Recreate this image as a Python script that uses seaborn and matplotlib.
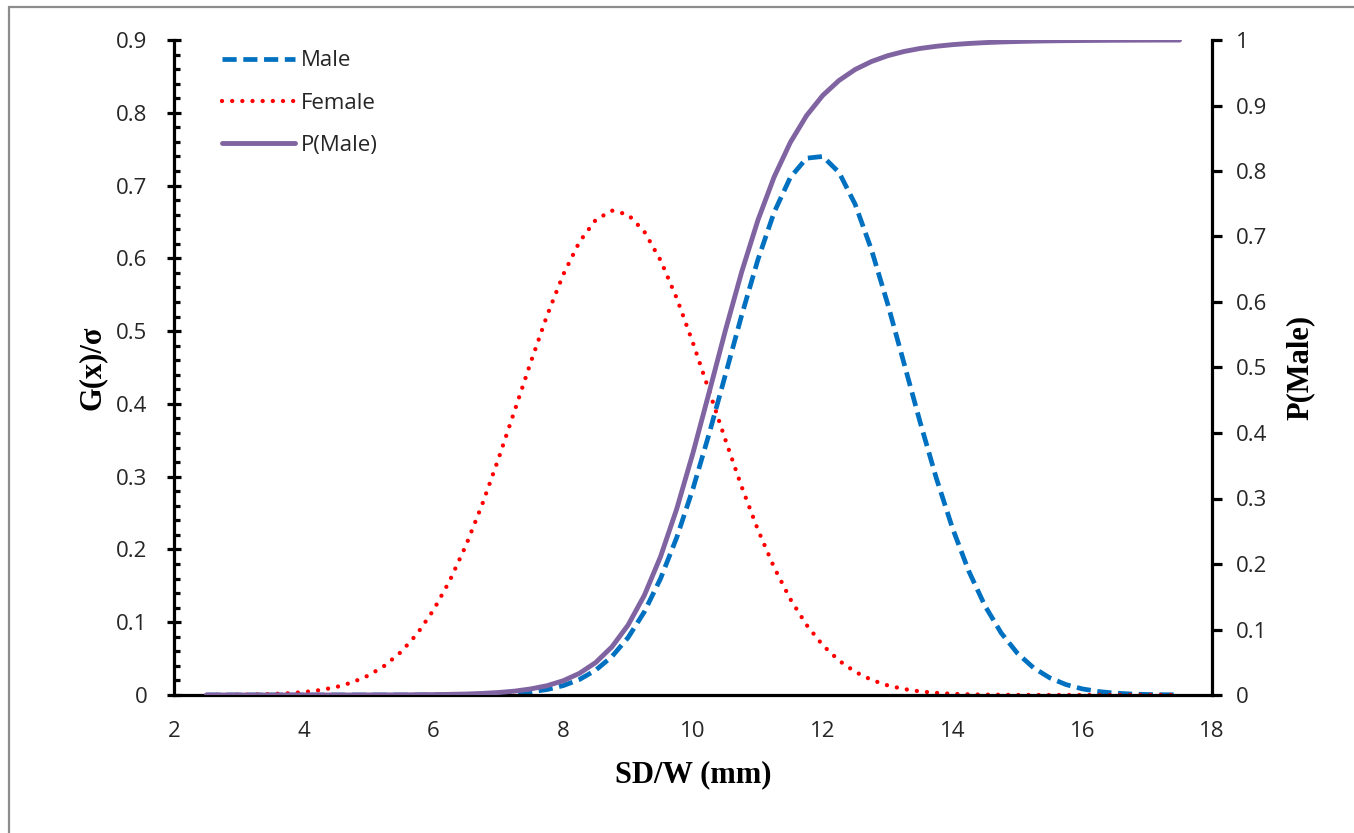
import matplotlib
matplotlib.use("Agg")
import matplotlib.pyplot as plt
from matplotlib.lines import Line2D
from matplotlib.ticker import MultipleLocator, FuncFormatter
import pandas as pd
import seaborn as sns

# SD/W sample positions (mm)
sd_w = [2.5, 2.75, 3.0, 3.25, 3.5, 3.75, 4.0, 4.25, 4.5, 4.75,
        5.0, 5.25, 5.5, 5.75, 6.0, 6.25, 6.5, 6.75, 7.0, 7.25,
        7.5, 7.75, 8.0, 8.25, 8.5, 8.75, 9.0, 9.25, 9.5, 9.75,
        10.0, 10.25, 10.5, 10.75, 11.0, 11.25, 11.5, 11.75, 12.0, 12.25,
        12.5, 12.75, 13.0, 13.25, 13.5, 13.75, 14.0, 14.25, 14.5, 14.75,
        15.0, 15.25, 15.5, 15.75, 16.0, 16.25, 16.5, 16.75, 17.0, 17.25,
        17.5]

# G(x)/sigma for males
g_male = [0.0, 0.0, 0.0, 0.0, 0.0, 0.0, 0.0, 0.0, 0.0, 0.0,
          0.0, 0.0, 0.0, 0.0, 0.0001, 0.0002, 0.0003, 0.0006, 0.0012, 0.0023,
          0.0043, 0.0075, 0.0129, 0.0213, 0.0341, 0.0528, 0.0790, 0.1143, 0.1600, 0.2166,
          0.2837, 0.3593, 0.4402, 0.5217, 0.5980, 0.6631, 0.7111, 0.7376, 0.7400, 0.7182,
          0.6742, 0.6121, 0.5376, 0.4566, 0.3752, 0.2981, 0.2292, 0.1704, 0.1226, 0.0853,
          0.0574, 0.0373, 0.0235, 0.0143, 0.0084, 0.0048, 0.0026, 0.0014, 0.0007, 0.0004,
          0.0002]

# G(x)/sigma for females
g_female = [0.0001, 0.0002, 0.0004, 0.0007, 0.0013, 0.0023, 0.0040, 0.0067, 0.0109, 0.0174,
            0.0269, 0.0405, 0.0592, 0.0843, 0.1167, 0.1570, 0.2055, 0.2617, 0.3242, 0.3905,
            0.4575, 0.5213, 0.5777, 0.6227, 0.6528, 0.6656, 0.6601, 0.6367, 0.5973, 0.5450,
            0.4836, 0.4175, 0.3504, 0.2861, 0.2272, 0.1754, 0.1318, 0.0963, 0.0684, 0.0473,
            0.0318, 0.0208, 0.0132, 0.0082, 0.0049, 0.0029, 0.0016, 0.0009, 0.0005, 0.0003,
            0.0001, 0.0, 0.0, 0.0, 0.0, 0.0, 0.0, 0.0, 0.0, 0.0,
            0.0]

# Posterior probability of male (secondary axis)
p_male = [0.0, 0.0, 0.0, 0.0, 0.0, 0.0, 0.0, 0.0, 0.0, 0.0,
          0.0001, 0.0001, 0.0002, 0.0004, 0.0006, 0.0010, 0.0015, 0.0024, 0.0038, 0.0059,
          0.0093, 0.0142, 0.0218, 0.0331, 0.0496, 0.0735, 0.1069, 0.1522, 0.2113, 0.2844,
          0.3697, 0.4625, 0.5568, 0.6458, 0.7247, 0.7908, 0.8436, 0.8845, 0.9154, 0.9382,
          0.9550, 0.9671, 0.9760, 0.9824, 0.9871, 0.9904, 0.9929, 0.9947, 0.9960, 0.9970,
          0.9977, 0.9983, 0.9987, 0.9990, 0.9992, 0.9994, 0.9996, 0.9997, 0.9998, 0.9999,
          0.9999]

series_labels = ["Male", "Female", "P(Male)"]
x_ticks = [2, 4, 6, 8, 10, 12, 14, 16, 18]

df = pd.DataFrame({"sd_w": sd_w, "male": g_male, "female": g_female, "p": p_male})

sns.set_style("white")
plt.rcParams["font.family"] = ["Open Sans", "DejaVu Sans"]

W, H = 1354, 833
fig = plt.figure(figsize=(W / 100, H / 100), dpi=100)
ax = fig.add_axes([174 / W, 1 - 695 / H, (1212 - 174) / W, (695 - 40) / H])
ax2 = ax.twinx()

blue, red, purple = "#0070C0", "#FF0000", "#8064A2"
male_style = dict(color=blue, lw=3.4, linestyle=(0, (3.0, 1.4)), solid_joinstyle="round")
female_style = dict(color=red, lw=3.1, linestyle=(0, (0.01, 2.35)), dash_capstyle="round")
p_style = dict(color=purple, lw=3.5, linestyle="-", solid_capstyle="round",
               solid_joinstyle="round")

sns.lineplot(data=df, x="sd_w", y="male", ax=ax, legend=False, **male_style)
sns.lineplot(data=df, x="sd_w", y="female", ax=ax, legend=False, **female_style)
sns.lineplot(data=df, x="sd_w", y="p", ax=ax2, legend=False, **p_style)

ax.set_xlim(2, 18)
ax.set_ylim(0, 0.9)
ax2.set_ylim(0, 1)
ax.set_xticks(x_ticks)
ax.xaxis.set_minor_locator(MultipleLocator(0.4))
ax.yaxis.set_major_locator(MultipleLocator(0.1))
ax.yaxis.set_minor_locator(MultipleLocator(0.02))
ax2.yaxis.set_major_locator(MultipleLocator(0.1))
fmt = FuncFormatter(lambda v, _: f"{v:g}")
ax.xaxis.set_major_formatter(fmt)
ax.yaxis.set_major_formatter(fmt)
ax2.yaxis.set_major_formatter(fmt)

for a in (ax, ax2):
    for s in a.spines.values():
        s.set_visible(False)
for name in ("left", "bottom"):
    ax.spines[name].set_visible(True)
    ax.spines[name].set_color("black")
    ax.spines[name].set_linewidth(2.3)
ax2.spines["right"].set_visible(True)
ax2.spines["right"].set_color("black")
ax2.spines["right"].set_linewidth(2.3)

label_color = "#262626"
ax.tick_params(axis="both", which="major", direction="inout", length=10, width=2.3,
               labelsize=16, labelcolor=label_color, pad=14, color="black")
ax.tick_params(axis="both", which="minor", direction="in", length=4.5, width=2.3, color="black")
ax.tick_params(axis="y", which="both", right=False)
ax.tick_params(axis="x", which="both", top=False)
ax2.tick_params(axis="y", which="major", direction="out", length=7, width=2.3,
                labelsize=16, labelcolor=label_color, pad=10, color="black")
ax2.tick_params(axis="y", which="minor", right=False)
ax.grid(False)
ax2.grid(False)

label_font = dict(family="Liberation Serif", weight="bold", size=22, color="black")
ax.set_xlabel("SD/W (mm)", **label_font)
ax.xaxis.label.set_va("center")
ax.xaxis.set_label_coords(0.5, -0.122)
ax.set_ylabel("G(x)/σ", **label_font)
ax.yaxis.label.set_va("center")
ax.yaxis.set_label_coords(-0.079, 0.5)
ax2.set_ylabel("P(Male)", rotation=90, **label_font)
ax2.yaxis.label.set_va("center")
ax2.yaxis.set_label_coords(1.085, 0.5)

handles = [Line2D([], [], **male_style), Line2D([], [], **female_style), Line2D([], [], **p_style)]
leg = ax2.legend(handles, series_labels, loc="upper left", bbox_to_anchor=(0.046, 0.984),
                 frameon=False, fontsize=16, handlelength=3.3, handletextpad=0.25,
                 labelspacing=0.95, borderpad=0, borderaxespad=0)
for t in leg.get_texts():
    t.set_color(label_color)

# thin grey frame along the left and top edges of the figure
frame_kw = dict(transform=fig.transFigure, color="#8c8c8c", lw=1.6)
fig.add_artist(Line2D([9 / W, 9 / W], [0, 1 - 7 / H], **frame_kw))
fig.add_artist(Line2D([9 / W, 1], [1 - 7 / H, 1 - 7 / H], **frame_kw))

fig.savefig("out.png", dpi=100, facecolor="white")
